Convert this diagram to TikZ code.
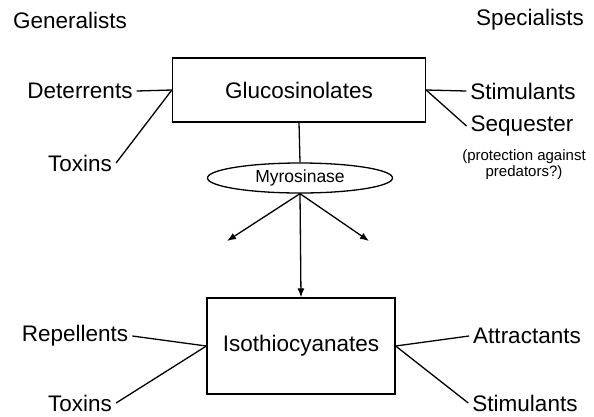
\documentclass[tikz,border=0pt]{standalone}
\usepackage{fontspec}
\setmainfont{Liberation Sans}
\usetikzlibrary{arrows.meta}
\usetikzlibrary{shapes.geometric}
\tikzset{>={Latex[length=9pt,width=7pt]}}
\tikzset{
  lbl/.style={font=\fontsize{22.5}{24}\selectfont, inner sep=4pt},
  sml/.style={font=\fontsize{15}{16}\selectfont, inner sep=1pt, align=center},
  chem/.style={draw, line width=1.3pt, font=\fontsize{22.5}{24}\selectfont},
  link/.style={line width=1.3pt}
}

\begin{document}
\begin{tikzpicture}[x=1pt,y=-1pt]
  \useasboundingbox (0,0) rectangle (594,416);
  % group headings
  \node (gen) at (70,20) [lbl] {Generalists};
  \node (spec) at (530,20) [lbl] {Specialists};
  % top box
  \node (gluc) at (299,90) [chem, minimum width=253pt, minimum height=64pt] {Glucosinolates};
  \node (detr) at (80,91) [lbl] {Deterrents};
  \node (toxa) at (80,163) [lbl] {Toxins};
  \node (stima) at (523,91) [lbl] {Stimulants};
  \node (seq) at (522,126) [lbl] {Sequester};
  \node (prot) at (524,165) [sml] {(protection against\\predators?)};
  \draw [link] (detr.east) -- (gluc.west);
  \draw [link] (toxa.east) -- (gluc.west);
  \draw [link] (stima.west) -- (gluc.east);
  \draw [link] (seq.west) -- (gluc.east);
  % enzyme
  \node (myro) at (300,178) [ellipse, draw, line width=1.3pt, minimum width=185pt, minimum height=30pt, inner sep=0pt, font=\fontsize{17.5}{18}\selectfont] {Myrosinase};
  \draw [link] (gluc.south) -- (myro.north);
  \coordinate (pl) at (227,241);
  \coordinate (pr) at (369,241);
  \draw [link,->] (myro.south) -- (pl);
  \draw [link,->] (myro.south) -- (pr);
  % bottom box
  \node (iso) at (301,346) [chem, minimum width=188pt, minimum height=96pt] {Isothiocyanates};
  \draw [link,->] (myro.south) -- (iso.north);
  \node (rep) at (75,336) [lbl] {Repellents};
  \node (toxb) at (80,403) [lbl] {Toxins};
  \node (attr) at (527,336) [lbl] {Attractants};
  \node (stimb) at (525,403) [lbl] {Stimulants};
  \draw [link] (rep.east) -- (iso.west);
  \draw [link] (toxb.east) -- (iso.west);
  \draw [link] (attr.west) -- (iso.east);
  \draw [link] (stimb.west) -- (iso.east);
\end{tikzpicture}
\end{document}
